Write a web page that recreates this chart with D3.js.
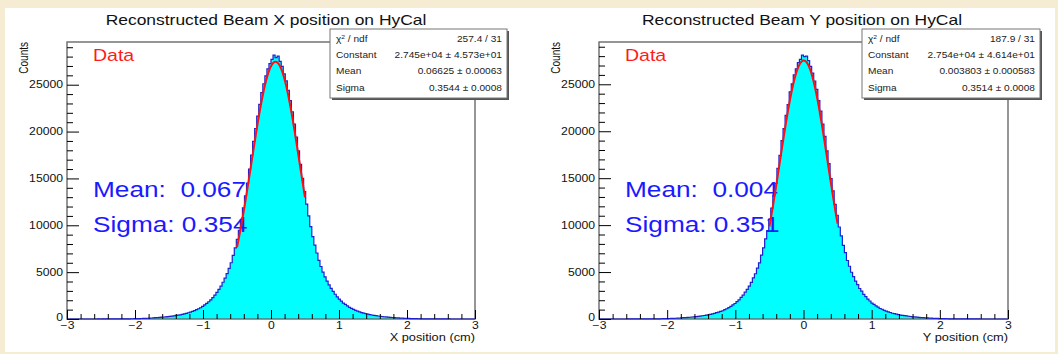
<!DOCTYPE html>
<html>
<head>
<meta charset="utf-8">
<script src="https://cdn.jsdelivr.net/npm/d3@7"></script>
<style>
  html, body { margin: 0; padding: 0; background: #f6ecd4; }
  svg { display: block; }
  text { font-family: "Liberation Sans", Arial, Helvetica, sans-serif; white-space: pre; }
</style>
</head>
<body>
<svg id="chart" width="1058" height="354"></svg>
<script>
// ---- data -------------------------------------------------------------
// Histogram range (cm); 200 equal bins across it
const histRange = [-3, 3];

// Beam X position on HyCal: counts per bin
const xCounts = [
  0,0,0,0,1,0,0,1,0,1,1,0,2,
  2,1,3,2,4,3,5,4,6,7,8,10,11,13,14,16,18,21,25,29,34,39,45,
  52,63,71,82,95,106,120,137,155,172,
  190,212,233,258,285,313,342,378,413,450,
  500,552,603,665,735,805,885,990,1095,1200,
  1350,1500,1660,1840,2050,2290,2550,2850,3170,3500,
  3920,4360,4840,5400,6000,6780,7600,8500,9450,10600,
  11850,13150,14500,15990,17480,18950,20330,21650,22900,24150,
  25100,25950,26700,27250,27700,28150,27900,28050,27480,26950,
  26150,25400,24400,23300,22100,20800,19400,17950,16500,15000,
  13600,12250,11000,9850,8800,7880,7040,6250,5600,5000,
  4500,4050,3640,3270,2950,2640,2370,2130,1910,1700,
  1550,1400,1250,1130,1030,920,830,755,690,620,
  568,516,466,425,390,354,320,295,266,240,
  218,198,178,158,142,126,110,99,87,75,
  66,57,48,42,36,31,27,23,20,16,
  14,12,10,9,8,7,6,5,4,4,3,3,2,2,1,2,1,1,0,1,0,0,0,0
];

// Beam Y position on HyCal: counts per bin
const yCounts = [
  0,1,0,0,1,0,1,0,1,1,1,
  1,2,2,3,3,4,4,5,6,6,8,9,11,12,14,17,19,22,24,28,33,40,46,
  53,61,72,80,93,108,118,139,152,175,
  188,214,230,262,281,316,345,374,416,455,
  496,556,598,670,731,810,880,995,1090,1210,
  1340,1510,1650,1850,2040,2300,2540,2860,3160,3510,
  3900,4380,4820,5420,5980,6800,7580,8530,9420,10650,
  11800,13200,14450,16050,17420,19000,20280,21700,22850,24200,
  25050,26000,26650,27300,27650,28100,27950,28000,27520,26900,
  26200,25350,24450,23250,22150,20750,19450,17900,16550,14950,
  13650,12200,11050,9800,8850,7850,7060,6230,5620,4980,
  4520,4030,3660,3250,2960,2620,2390,2120,1920,1690,
  1560,1390,1260,1120,1040,910,840,750,695,615,
  572,512,470,420,393,350,323,292,268,237,
  220,195,180,156,144,124,112,97,88,74,
  67,56,49,41,37,30,28,22,21,15,
  13,12,11,9,7,7,6,5,5,3,3,3,2,1,2,1,1,1,0,0,1,0,0,0,
  0,0
];

// Gaussian fit results (Constant, Mean, Sigma) and fit window
const fitConstant = [2.745e4, 2.754e4];
const fitMean     = [0.06625, 0.003803];
const fitSigma    = [0.3544, 0.3514];
const fitWindow   = [-0.5, 0.5];

// Fit statistics box values
const chi2Ndf   = ["257.4 / 31", "187.9 / 31"];
const constText = ["2.745e+04 \u00b1 4.573e+01", "2.754e+04 \u00b1 4.614e+01"];
const meanText  = ["0.06625 \u00b1 0.00063", "0.003803 \u00b1 0.000583"];
const sigmaText = ["0.3544 \u00b1 0.0008", "0.3514 \u00b1 0.0008"];

// Summary labels printed on the plots
const summaryMean  = ["0.067", "0.004"];
const summarySigma = ["0.354", "0.351"];

const titles     = ["Reconstructed Beam X position on HyCal", "Reconstructed Beam Y position on HyCal"];
const axisTitles = ["X position (cm)", "Y position (cm)"];
const yAxisTitle = "Counts";
const xTickValues = [-3, -2, -1, 0, 1, 2, 3];
const yTickValues = [0, 5000, 10000, 15000, 20000, 25000];

// ---- layout -----------------------------------------------------------
const SX = 1.22; // horizontal glyph stretch used for all lettering
const panels = [
  { left: 67,  right: 475,  titleX: 266, box: [330, 507] },
  { left: 599, right: 1008, titleX: 802, box: [862, 1040] }
];
const frameTop = 42, frameBottom = 319;

const svg = d3.select("#chart");
svg.append("rect").attr("x", 5).attr("y", 8).attr("width", 1050).attr("height", 344).attr("fill", "#ffffff");

function stext(g, x, y, str, size, anchor, color) {
  return g.append("text")
    .attr("transform", `translate(${x},${y}) scale(${SX},1)`)
    .attr("text-anchor", anchor)
    .attr("font-size", size)
    .attr("fill", color)
    .text(str);
}

const datasets = [xCounts, yCounts];

panels.forEach((p, k) => {
  const counts = datasets[k];
  const g = svg.append("g");
  const nb = counts.length;
  const bw = (histRange[1] - histRange[0]) / nb;
  const yMax = 1.05 * d3.max(counts);

  const x = d3.scaleLinear().domain(histRange).range([p.left, p.right]);
  const y = d3.scaleLinear().domain([0, yMax]).range([frameBottom, frameTop]);

  // step outline points of the histogram
  const pts = [{ x: histRange[0], c: 0 }];
  counts.forEach((c, i) => {
    const x0 = histRange[0] + i * bw;
    pts.push({ x: x0, c }, { x: x0 + bw, c });
  });
  pts.push({ x: histRange[1], c: 0 });

  g.append("path")
    .attr("d", d3.area().x(d => x(d.x)).y0(y(0)).y1(d => y(d.c))(pts))
    .attr("fill", "#00ffff");

  // frame
  g.append("rect")
    .attr("x", p.left).attr("y", frameTop)
    .attr("width", p.right - p.left).attr("height", frameBottom - frameTop)
    .attr("fill", "none").attr("stroke", "#6a6a6a").attr("stroke-width", 1.4);

  g.append("path")
    .attr("d", d3.line().x(d => x(d.x)).y(d => y(d.c))(pts))
    .attr("fill", "none").attr("stroke", "#2020d0").attr("stroke-width", 1.2);

  // x axis: major and minor ticks drawn inward
  const xMinor = d3.range(-15, 16).map(v => v / 5).filter(v => !Number.isInteger(v));
  g.append("g").attr("transform", `translate(0,${frameBottom})`)
    .call(d3.axisBottom(x).tickValues(xMinor).tickSize(-5).tickFormat(""))
    .call(a => a.select(".domain").remove());
  const xa = g.append("g").attr("transform", `translate(0,${frameBottom})`)
    .attr("font-size", 10.5).attr("font-family", "Liberation Sans, Arial, sans-serif")
    .call(d3.axisBottom(x).tickValues(xTickValues).tickSize(-9).tickPadding(3).tickFormat(d3.format("d")))
    .call(a => a.select(".domain").remove());
  xa.selectAll("text").attr("transform", `scale(${SX},1)`).attr("fill", "#111");

  // y axis
  const yMinor = d3.range(0, Math.floor(yMax / 1000) + 1).map(v => v * 1000).filter(v => v % 5000 !== 0);
  g.append("g").attr("transform", `translate(${p.left},0)`)
    .call(d3.axisLeft(y).tickValues(yMinor).tickSize(-6).tickFormat(""))
    .call(a => a.select(".domain").remove());
  const ya = g.append("g").attr("transform", `translate(${p.left},0)`)
    .attr("font-size", 10.5).attr("font-family", "Liberation Sans, Arial, sans-serif")
    .call(d3.axisLeft(y).tickValues(yTickValues).tickSize(-12).tickPadding(4).tickFormat(d3.format("d")))
    .call(a => a.select(".domain").remove());
  ya.selectAll("text").attr("x", -4 / SX).attr("transform", `scale(${SX},1)`).attr("fill", "#111");
  ya.selectAll(".tick").filter(d => d === 0).select("text").attr("dy", "0.1em");

  // titles
  stext(g, p.titleX, 25, titles[k], 14.3, "middle", "#111");
  stext(g, p.right, 341, axisTitles[k], 10.5, "end", "#111");
  g.append("text")
    .attr("transform", `translate(${p.left - 39},${frameTop}) scale(${SX},1) rotate(-90)`)
    .attr("text-anchor", "end").attr("font-size", 10).attr("fill", "#111")
    .text(yAxisTitle);

  // labels inside the frame
  stext(g, p.left + 26, 61, "Data", 16, "start", "#ff1a1a");
  stext(g, p.left + 26, 197, "Mean:  " + summaryMean[k], 21.5, "start", "#1a1aff");
  stext(g, p.left + 26, 232, "Sigma: " + summarySigma[k], 21.5, "start", "#1a1aff");

  // gaussian fit curve from the fitted parameters
  const fx = d3.range(0, 201).map(j => fitWindow[0] + j * (fitWindow[1] - fitWindow[0]) / 200);
  g.append("path")
    .attr("d", d3.line().x(d => x(d)).y(d => y(fitConstant[k] * Math.exp(-0.5 * Math.pow((d - fitMean[k]) / fitSigma[k], 2))))(fx))
    .attr("fill", "none").attr("stroke", "#ff1010").attr("stroke-width", 2);

  // statistics box with shadow
  const bx = p.box[0], bw2 = p.box[1] - p.box[0], by = 29, bh = 69;
  g.append("rect").attr("x", bx + 2).attr("y", by + 2).attr("width", bw2).attr("height", bh).attr("fill", "#555");
  g.append("rect").attr("x", bx).attr("y", by).attr("width", bw2).attr("height", bh)
    .attr("fill", "#fff").attr("stroke", "#777").attr("stroke-width", 1);
  const rows = [
    ["\u03c7", chi2Ndf[k]],
    ["Constant", constText[k]],
    ["Mean", meanText[k]],
    ["Sigma", sigmaText[k]]
  ];
  rows.forEach((r, j) => {
    const yy = 42 + j * 16.2;
    const t = stext(g, bx + 6, yy, r[0], 8.3, "start", "#222");
    if (j === 0) {
      t.append("tspan").attr("dy", -3).attr("font-size", 5.5).text("2");
      t.append("tspan").attr("dy", 3).text(" / ndf");
    }
    stext(g, bx + bw2 - 5, yy, r[1], 8.3, "end", "#222");
  });
});
</script>
</body>
</html>
